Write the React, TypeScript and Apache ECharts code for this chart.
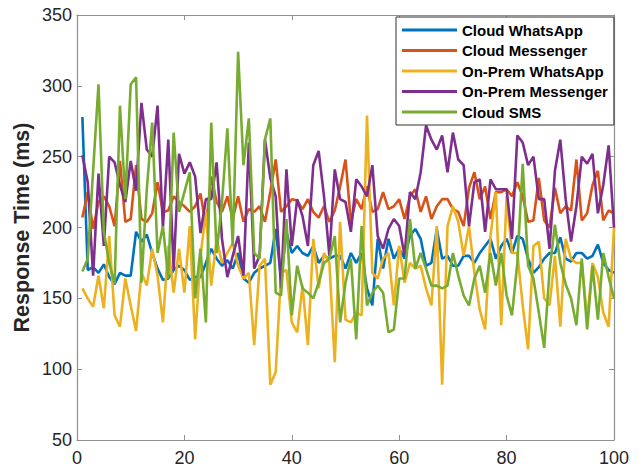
import React, { useEffect, useRef } from "react";
import * as echarts from "echarts";

const xs: number[] = Array.from({ length: 100 }, (_, i) => i + 1);

const cloudWhatsApp: number[] = [
  278, 170, 172, 168, 174, 165, 160, 168, 166, 166, 197, 190,
  195, 182, 171, 163, 164, 170, 173, 170, 163, 165, 165, 175,
  185, 178, 173, 177, 171, 182, 164, 161, 168, 171, 173, 175,
  199, 164, 197, 182, 187, 182, 180, 187, 175, 180, 178, 180,
  180, 171, 182, 175, 182, 157, 145, 192, 171, 192, 178, 185,
  178, 194, 199, 192, 173, 175, 199, 178, 180, 173, 173, 180,
  180, 175, 182, 187, 192, 178, 187, 192, 182, 194, 192, 178, 168,
  172, 178, 182, 182, 193, 178, 176, 182, 182, 178, 180, 188, 175, 170, 168,
];

const cloudMessenger: number[] = [
  207, 225, 199, 218, 222, 215, 201, 247, 204, 206, 244, 206,
  204, 210, 232, 211, 212, 222, 218, 215, 211, 215, 224, 201,
  236, 218, 211, 222, 206, 222, 204, 213, 211, 215, 204, 225,
  248, 211, 215, 220, 219, 213, 220, 211, 207, 215, 204, 212,
  229, 248, 204, 220, 213, 229, 211, 213, 225, 213, 215, 220,
  206, 222, 227, 211, 222, 206, 215, 220, 220, 213, 211, 201,
  228, 239, 220, 229, 206, 225, 225, 227, 222, 232, 222, 204, 205,
  235, 205, 200, 228, 210, 215, 212, 248, 205, 210, 230, 240, 205, 212, 210,
];

const onPremWhatsApp: number[] = [
  157, 150, 144, 166, 143, 194, 138, 130, 164, 145, 127, 168,
  159, 185, 166, 133, 187, 154, 185, 154, 201, 121, 180, 211,
  159, 192, 175, 182, 189, 173, 164, 168, 117, 173, 178, 89,
  98, 168, 170, 133, 126, 159, 117, 192, 157, 182, 175, 105,
  204, 135, 133, 140, 138, 279, 168, 164, 178, 182, 145, 187,
  161, 175, 171, 173, 157, 145, 201, 89, 201, 215, 204, 180,
  201, 168, 142, 128, 194, 225, 131, 222, 182, 182, 145, 114, 187,
  190, 150, 145, 180, 130, 192, 178, 175, 175, 135, 175, 165, 140, 130, 200,
];

const onPremMessenger: number[] = [
  251, 232, 166, 238, 187, 250, 246, 230, 218, 247, 226, 288,
  255, 250, 286, 200, 262, 170, 252, 238, 246, 236, 196, 220,
  220, 246, 192, 165, 180, 194, 166, 260, 171, 180, 262, 235,
  222, 157, 241, 187, 220, 208, 187, 244, 254, 222, 180, 241,
  220, 218, 197, 234, 229, 222, 244, 194, 185, 199, 206, 201,
  180, 225, 220, 239, 272, 262, 255, 265, 239, 267, 248, 244,
  201, 232, 234, 197, 234, 227, 227, 227, 192, 265, 260, 244, 250,
  220, 220, 185, 240, 262, 220, 190, 215, 250, 245, 252, 210, 230, 258, 200,
];

const cloudSMS: number[] = [
  169, 178, 240, 301, 197, 175, 160, 286, 220, 301, 306, 161,
  227, 274, 182, 201, 164, 267, 211, 225, 239, 150, 185, 133,
  274, 182, 218, 270, 187, 324, 244, 277, 182, 178, 262, 277,
  154, 152, 206, 138, 173, 157, 154, 150, 161, 175, 178, 194,
  133, 161, 178, 121, 201, 145, 154, 159, 154, 126, 128, 164,
  164, 206, 171, 182, 171, 159, 159, 157, 159, 182, 166, 152,
  145, 164, 173, 154, 182, 159, 182, 152, 138, 175, 245, 173, 164,
  140, 115, 170, 202, 175, 160, 150, 131, 178, 128, 173, 135, 182, 165, 150,
];

const seriesNames: string[] = [
  "Cloud WhatsApp",
  "Cloud Messenger",
  "On-Prem WhatsApp",
  "On-Prem Messenger",
  "Cloud SMS",
];
const seriesData: number[][] = [cloudWhatsApp, cloudMessenger, onPremWhatsApp, onPremMessenger, cloudSMS];
const colors: string[] = ["#0072BD", "#D95319", "#EDB120", "#7E2F8E", "#77AC30"];

const FONT = "'Liberation Sans', Arial, Helvetica, sans-serif";
const AXIS_COLOR = "#8f8f8f";
const LABEL_COLOR = "#262626";

export default function App() {
  const ref = useRef<HTMLDivElement>(null);
  useEffect(() => {
    if (!ref.current) return;
    const chart = echarts.init(ref.current, null, { renderer: "svg" });
    const tickCommon = { show: true, inside: true, length: 5, lineStyle: { color: AXIS_COLOR, width: 1 } };
    const lineCommon = { show: true, onZero: false, lineStyle: { color: AXIS_COLOR, width: 1.2 } };
    chart.setOption({
      animation: false,
      backgroundColor: "#ffffff",
      color: colors,
      grid: { left: 77, top: 15, width: 537, height: 425, containLabel: false },
      legend: {
        data: seriesNames,
        orient: "vertical",
        left: 396,
        top: 17,
        width: 216,
        padding: [5, 6, 5, 6],
        icon: "rect",
        itemWidth: 55,
        itemHeight: 3,
        itemGap: 4.5,
        borderColor: "#333333",
        borderWidth: 1,
        backgroundColor: "#ffffff",
        textStyle: { fontFamily: FONT, fontWeight: "bold", fontSize: 15, color: "#000000", lineHeight: 16 },
      },
      xAxis: [
        {
          type: "value",
          min: 0,
          max: 100,
          interval: 20,
          position: "bottom",
          axisLine: lineCommon,
          axisTick: tickCommon,
          splitLine: { show: false },
          axisLabel: { color: LABEL_COLOR, fontFamily: FONT, fontSize: 18, margin: 9 },
        },
        {
          type: "value",
          min: 0,
          max: 100,
          interval: 20,
          position: "top",
          axisLine: lineCommon,
          axisTick: tickCommon,
          splitLine: { show: false },
          axisLabel: { show: false },
        },
      ],
      yAxis: [
        {
          type: "value",
          min: 50,
          max: 350,
          interval: 50,
          position: "left",
          name: "Response Time (ms)",
          nameLocation: "middle",
          nameGap: 44,
          nameMoveOverlap: false,
          nameTextStyle: { fontFamily: FONT, fontWeight: "bold", fontSize: 21.5, color: LABEL_COLOR },
          axisLine: lineCommon,
          axisTick: tickCommon,
          splitLine: { show: false },
          axisLabel: { color: LABEL_COLOR, fontFamily: FONT, fontSize: 18, margin: 5 },
        },
        {
          type: "value",
          min: 50,
          max: 350,
          interval: 50,
          position: "right",
          axisLine: lineCommon,
          axisTick: tickCommon,
          splitLine: { show: false },
          axisLabel: { show: false },
        },
      ],
      series: seriesNames.map((name, k) => ({
        name,
        type: "line",
        xAxisIndex: 0,
        yAxisIndex: 0,
        symbol: "none",
        data: xs.map((x, i) => [x, seriesData[k][i]]),
        lineStyle: { width: 2.6, color: colors[k] },
        itemStyle: { color: colors[k] },
      })),
    });
    return () => chart.dispose();
  }, []);
  return (
    <div
      ref={ref}
      style={{ position: "fixed", left: 0, top: 0, width: 644, height: 467, background: "#fff" }}
    />
  );
}
